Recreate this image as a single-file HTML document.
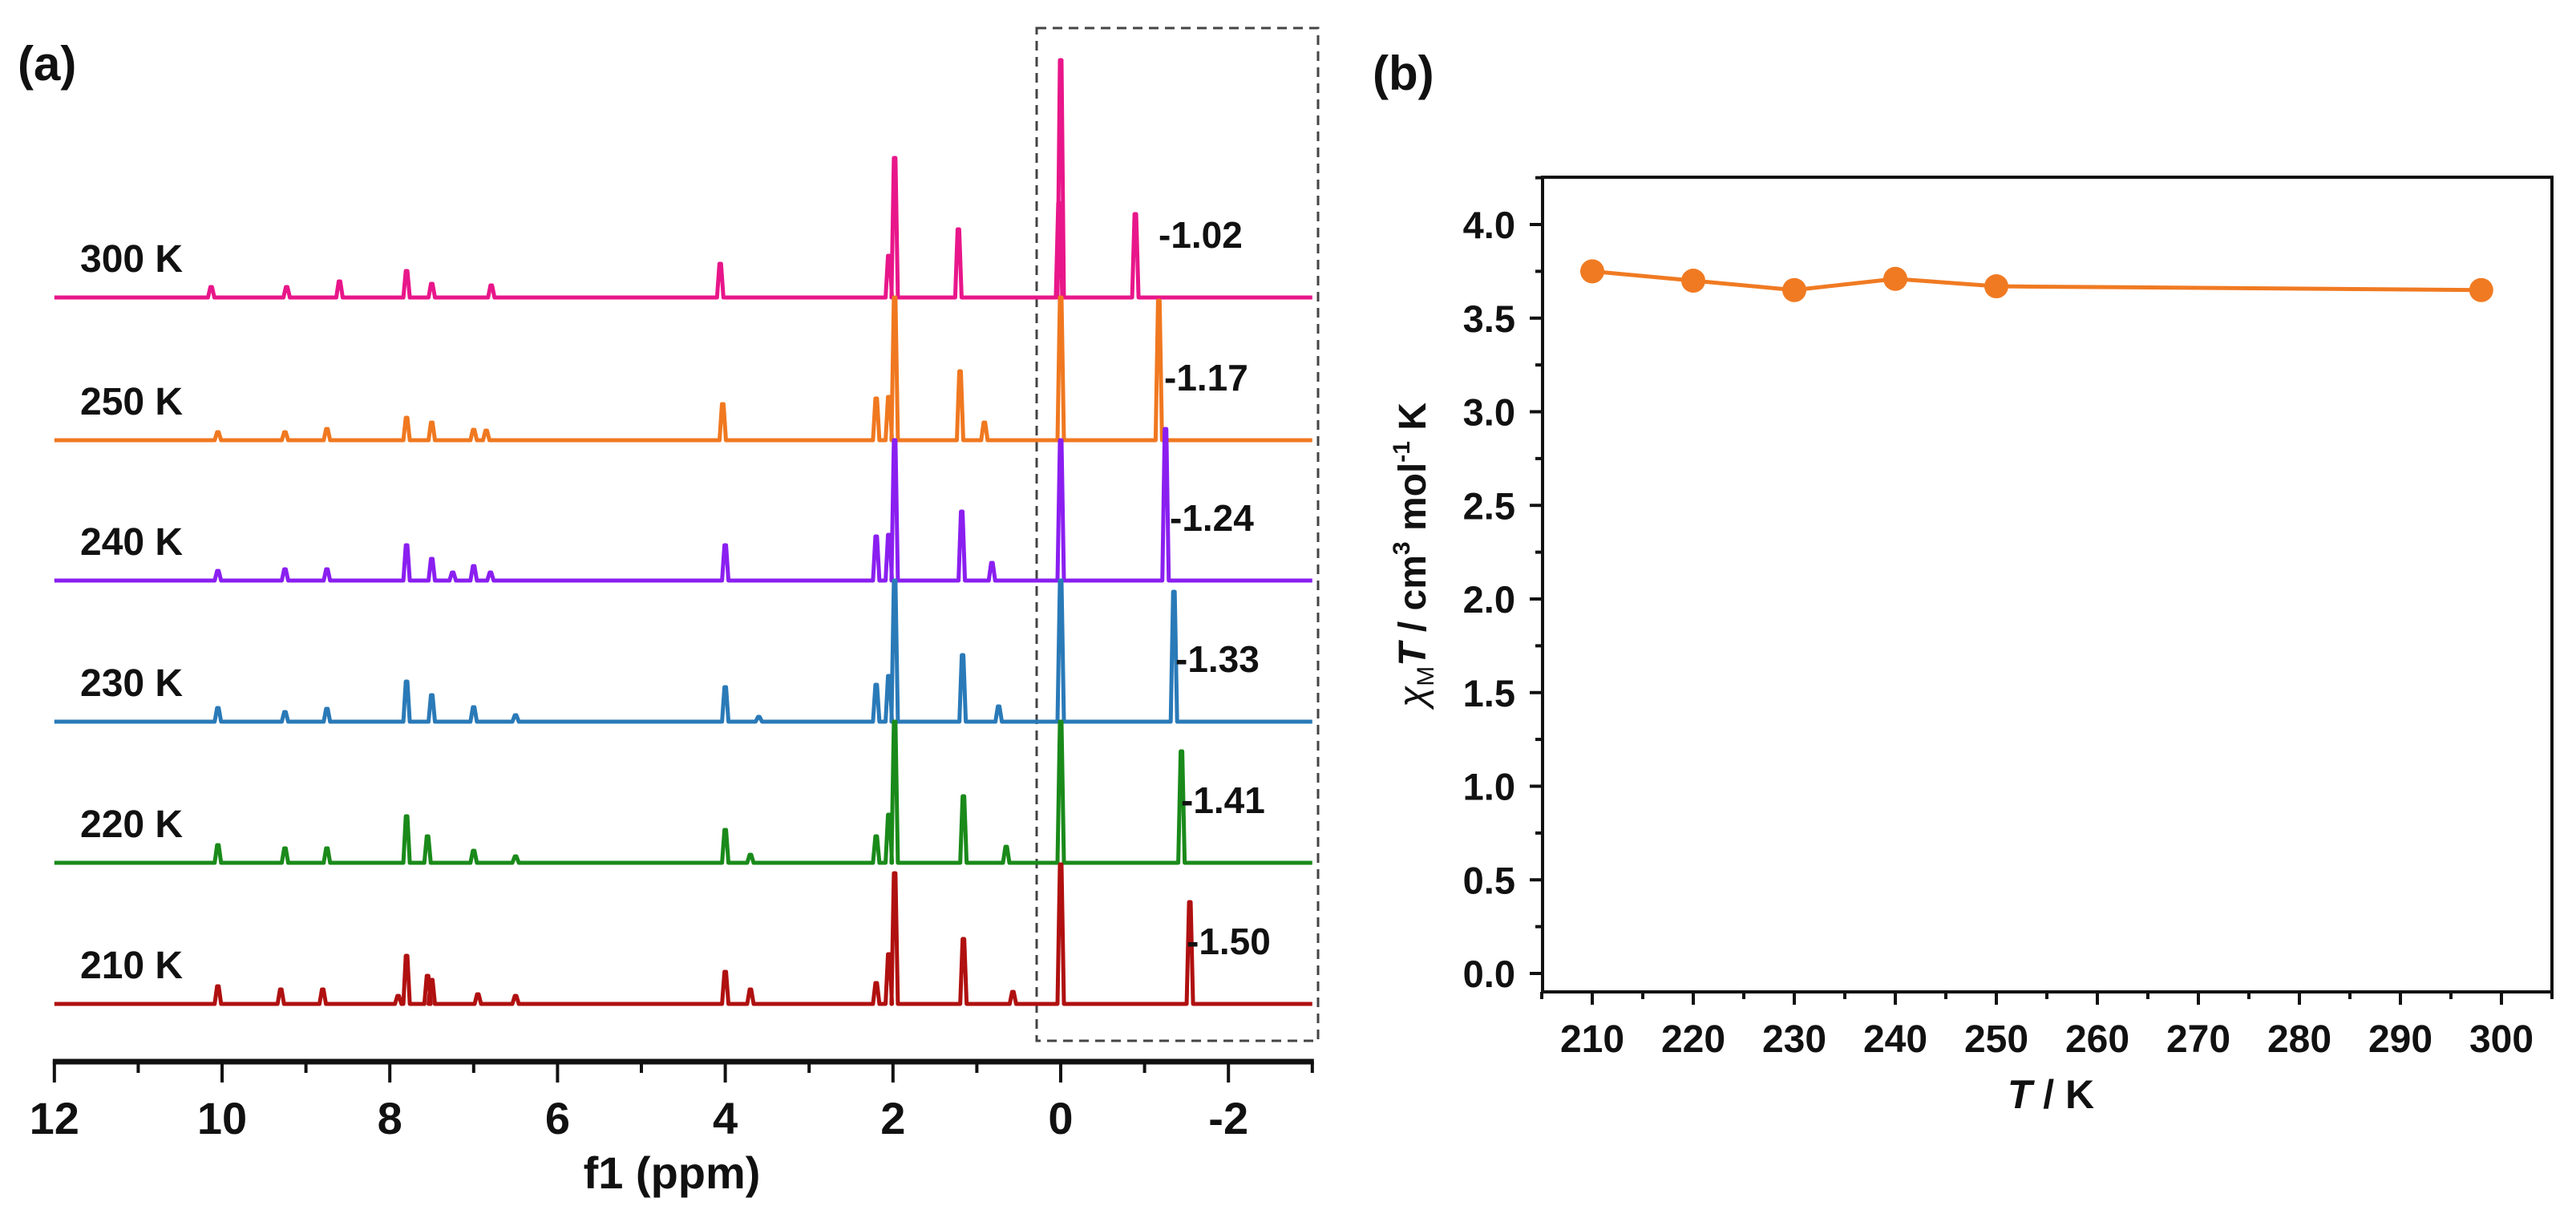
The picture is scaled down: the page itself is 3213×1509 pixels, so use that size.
<!DOCTYPE html>
<html><head><meta charset="utf-8"><style>
html,body{margin:0;padding:0;background:#fff}
svg{display:block}
text{font-family:"Liberation Sans",Arial,sans-serif;font-weight:bold;fill:#111}
</style></head><body>
<svg id="fig" width="3213" height="1509" viewBox="0 0 3213 1509" xmlns="http://www.w3.org/2000/svg">
<g id="pa"></g>
<g id="pb"></g>
</svg>
<script>
// ---------- Panel (a) data ----------
const temps = ["300 K","250 K","240 K","230 K","220 K","210 K"];
const shiftLabels = ["-1.02","-1.17","-1.24","-1.33","-1.41","-1.50"];
const colors = ["#e8168a","#f07820","#8a1ff0","#2a7ab8","#1a8a1a","#b01010"];
const peaks300 = [[10.13,13],[9.23,13],[8.6,20],[7.8,33],[7.5,17],[6.79,15],[4.06,42],[2.05,52],[1.98,174],[1.22,85],[0.02,118],[0,296],[-0.89,104]];
const peaks250 = [[10.05,10],[9.25,10],[8.75,14],[7.8,28],[7.5,22],[7.0,13],[6.85,12],[4.03,45],[2.2,52],[2.05,54],[1.98,178],[1.2,86],[0.91,22],[0,178],[-1.17,174]];
const peaks240 = [[10.05,12],[9.25,14],[8.75,14],[7.8,44],[7.5,27],[7.25,10],[7.0,18],[6.8,10],[4.0,44],[2.2,55],[2.05,57],[1.98,175],[1.18,86],[0.82,22],[0,175],[-1.25,189]];
const peaks230 = [[10.05,17],[9.25,12],[8.75,16],[7.8,50],[7.5,33],[7.0,18],[6.5,8],[4.0,43],[3.6,6],[2.2,46],[2.05,57],[1.98,176],[1.17,83],[0.74,19],[0,176],[-1.35,162]];
const peaks220 = [[10.05,22],[9.25,18],[8.75,18],[7.8,58],[7.55,33],[7.0,15],[6.5,8],[4.0,41],[3.7,10],[2.2,33],[2.05,60],[1.98,176],[1.16,83],[0.65,20],[0,176],[-1.44,139]];
const peaks210 = [[10.05,22],[9.3,18],[8.8,18],[7.9,10],[7.8,60],[7.55,35],[7.5,30],[6.95,12],[6.5,10],[4.0,40],[3.7,18],[2.2,26],[2.05,62],[1.98,163],[1.16,81],[0.57,15],[0,174],[-1.54,127]];
const allPeaks = [peaks300,peaks250,peaks240,peaks230,peaks220,peaks210];
const ppmTicks = [12,10,8,6,4,2,0,-2];
// ---------- Panel (b) data ----------
const tempK = [210,220,230,240,250,298];
const chiMT = [3.75,3.70,3.65,3.71,3.67,3.65];
const xTicks = [210,220,230,240,250,260,270,280,290,300];
const yTicks = ["0.0","0.5","1.0","1.5","2.0","2.5","3.0","3.5","4.0"];

const NS="http://www.w3.org/2000/svg";
function mk(tag,attrs,parent,txt){const e=document.createElementNS(NS,tag);for(const k in attrs)e.setAttribute(k,attrs[k]);if(txt!==undefined)e.textContent=txt;parent.appendChild(e);return e;}

// Panel a axes
const pa=document.getElementById('pa');
const xppm = p => 1323 - p*104.6;
const baselines = [371,549,724,900,1076,1252];
let t=mk('text',{x:22,y:100,'font-size':60},pa,'(a)');


let box=mk('rect',{x:1293,y:35,width:351,height:1263,fill:'none',stroke:'#444','stroke-width':3,'stroke-dasharray':'12,8'},pa);


allPeaks.forEach((pk,i)=>{
  const b=baselines[i];
  const sorted=pk.slice().sort((a,c)=>c[0]-a[0]);
  let d='M'+xppm(12)+' '+b;
  sorted.forEach(([p,h])=>{const x=xppm(p);d+=' L'+(x-4)+' '+b+' L'+(x-1)+' '+(b-h)+' L'+(x+1)+' '+(b-h)+' L'+(x+4)+' '+b;});
  d+=' L'+xppm(-3)+' '+b;
  const path=mk('path',{d:d,fill:'none',stroke:colors[i],'stroke-width':5,'stroke-linejoin':'round'},pa);
  
  
  const lt=mk('text',{x:100,y:b-32,'font-size':48},pa,temps[i]);
  
  
  const st=mk('text',{x:1445+i*7,y:b-62,'font-size':46},pa,shiftLabels[i]);
  
  
});
let ax=mk('line',{x1:xppm(12)-2,y1:1324,x2:xppm(-3)+2,y2:1324,stroke:'#111','stroke-width':7},pa);


for(let p=12;p>=-3;p--){
  const major=ppmTicks.includes(p);
  const tk=mk('line',{x1:xppm(p),y1:1324,x2:xppm(p),y2:major?1350:1338,stroke:'#111','stroke-width':4},pa);
  
  
}
ppmTicks.forEach(p=>{
  const tl=mk('text',{x:xppm(p),y:1414,'font-size':56,'text-anchor':'middle'},pa,p<0?'-'+Math.abs(p):String(p));
  
  
});
t=mk('text',{x:838,y:1482,'font-size':56,'text-anchor':'middle'},pa,'f1 (ppm)');



// Panel b
const pb=document.getElementById('pb');
const L=1924,R=3183,T=221,B=1237;
const xs = v => 1986 + (v-210)*12.6;
const ys = v => 1214 - v*233.5;
t=mk('text',{x:1712,y:112,'font-size':60},pb,'(b)');


let fr=mk('rect',{x:L,y:T,width:R-L,height:B-T,fill:'none',stroke:'#111','stroke-width':4},pb);


for(let v=205;v<=305;v+=5){
  const major=v%10===0;
  const tk=mk('line',{x1:xs(v),y1:B,x2:xs(v),y2:B+(major?16:9),stroke:'#111','stroke-width':4},pb);
  
  
}
xTicks.forEach(v=>{
  const tl=mk('text',{x:xs(v),y:1312,'font-size':48,'text-anchor':'middle'},pb,String(v));
  
  
});
for(let k=0;k<=17;k++){
  const v=k*0.25;const major=k%2===0;
  const tk=mk('line',{x1:L,y1:ys(v),x2:L-(major?16:9),y2:ys(v),stroke:'#111','stroke-width':4},pb);
  
  
}
yTicks.forEach(s=>{
  const tl=mk('text',{x:1890,y:ys(parseFloat(s))+17,'font-size':47,'text-anchor':'end'},pb,s);
  
  
});
t=mk('text',{x:2558,y:1382,'font-size':50,'text-anchor':'middle'},pb);


t.innerHTML='<tspan font-style="italic">T</tspan> / K';
t=mk('text',{x:0,y:0,'font-size':48,'text-anchor':'middle',transform:'translate(1778,692) rotate(-90)'},pb);


t.innerHTML='<tspan font-style="italic" font-weight="normal">χ</tspan><tspan font-size="30" dy="10" font-weight="normal">M</tspan><tspan dy="-10" font-style="italic">T</tspan> / cm<tspan font-size="30" dy="-20">3</tspan><tspan dy="20"> mol</tspan><tspan font-size="30" dy="-20">-1</tspan><tspan dy="20"> K</tspan>';
const pts=tempK.map((v,i)=>xs(v)+','+ys(chiMT[i])).join(' ');
let pl=mk('polyline',{points:pts,fill:'none',stroke:'#f07a22','stroke-width':5},pb);


tempK.forEach((v,i)=>{
  const c=mk('circle',{cx:xs(v),cy:ys(chiMT[i]),r:15,fill:'#f07a22'},pb);
  
  
});
</script>
</body></html>
